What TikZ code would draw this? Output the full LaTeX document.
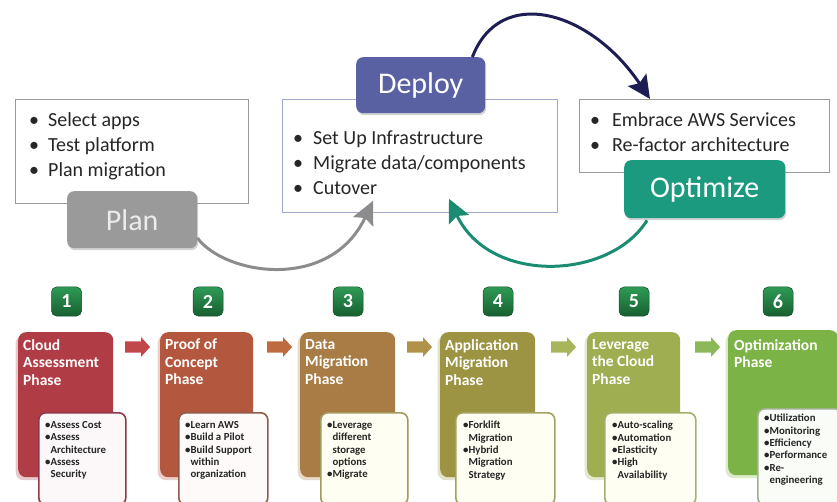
\documentclass[tikz,border=0pt]{standalone}
\usepackage{fontspec}
\setmainfont{Carlito}
\usetikzlibrary{arrows.meta,shapes.arrows,shadows}
\definecolor{btngray}{HTML}{9A9A9A}
\definecolor{btnblue}{HTML}{5A61A3}
\definecolor{btnteal}{HTML}{1C9A80}
\definecolor{navy}{HTML}{1E1E55}
\definecolor{tealarr}{HTML}{1A8C72}
\definecolor{grayarr}{HTML}{8C8C8C}
\definecolor{cA}{HTML}{B03C45}
\definecolor{cB}{HTML}{B3583F}
\definecolor{cC}{HTML}{A97B45}
\definecolor{cD}{HTML}{9C9442}
\definecolor{cE}{HTML}{9EAE50}
\definecolor{cF}{HTML}{7CB346}
\definecolor{aA}{HTML}{C0474A}
\definecolor{aB}{HTML}{BF6B40}
\definecolor{aC}{HTML}{B0924A}
\definecolor{aD}{HTML}{A9B55A}
\definecolor{aE}{HTML}{8CB85A}
\definecolor{bA}{HTML}{8E3A4C}
\definecolor{bB}{HTML}{8E5A4C}
\definecolor{bC}{HTML}{A39A60}
\definecolor{bD}{HTML}{A2A260}
\definecolor{bE}{HTML}{A2B070}
\definecolor{bF}{HTML}{A0B090}
\definecolor{badgetop}{HTML}{2E9A55}
\definecolor{badgebot}{HTML}{176030}
\begin{document}
\begin{tikzpicture}[x=1pt,y=-1pt,
  txtbox/.style={draw=black!40, line width=0.8pt, fill=white, inner sep=0pt, anchor=north west},
  listtext/.style={anchor=north west, inner sep=0pt, align=left, font=\fontsize{20}{25}\selectfont, text=black!85},
  btn/.style={rounded corners=7pt, inner sep=0pt, anchor=north west, text=white, font=\fontsize{30}{32}\selectfont, drop shadow={opacity=0.35, shadow xshift=1pt, shadow yshift=-2pt}},
  phase/.style={rounded corners=8pt, inner sep=0pt, anchor=north west, minimum height=145pt},
  pshadow/.style={drop shadow={fill=#1!28, opacity=1, shadow xshift=-2.5pt, shadow yshift=-3pt}},
  inner/.style={rounded corners=7pt, line width=1.6pt, inner sep=0pt, anchor=north west},
  ptitle/.style={anchor=north west, inner sep=0pt, align=left, text=white, font=\bfseries\fontsize{15.5}{17.5}\selectfont},
  itext/.style={anchor=north west, inner sep=0pt, align=left, text=black!85, font=\bfseries\fontsize{10.8}{12.4}\selectfont},
  badge/.style={rounded corners=5pt, minimum width=30pt, minimum height=29pt, inner sep=0pt, top color=badgetop, bottom color=badgebot, draw=badgebot!80!black, line width=0.5pt, text=white, font=\bfseries\fontsize{20}{20}\selectfont},
  blk/.style={single arrow, minimum height=25pt, minimum width=19pt, single arrow head extend=4pt, single arrow tip angle=95, inner xsep=0pt, inner ysep=5.5pt, text height=0pt, text depth=0pt},
  curve/.style={line width=3pt, -{Stealth[length=23pt,width=22pt,inset=4pt]}}
]
\useasboundingbox (0,0) rectangle (837,502);

% ---------------- upper part ----------------
\node[txtbox, minimum width=233pt, minimum height=104pt] (planbox) at (15,99) {};
\node[listtext] (plantext) at (29,112) {\makebox[19pt][l]{•}Select apps\\\makebox[19pt][l]{•}Test platform\\\makebox[19pt][l]{•}Plan migration};
\node[btn, fill=btngray, minimum width=130pt, minimum height=57pt, text=white!92!black] (plan) at (67,191) {Plan};

\node[txtbox, draw=btnblue!55, minimum width=275pt, minimum height=113pt] (deploybox) at (282,99) {};
\node[listtext] (deploytext) at (293,131) {\makebox[20pt][l]{•}Set Up Infrastructure\\\makebox[20pt][l]{•}Migrate data/components\\\makebox[20pt][l]{•}Cutover};
\node[btn, fill=btnblue, minimum width=129pt, minimum height=56pt] (deploy) at (356,57) {Deploy};

\node[txtbox, minimum width=250pt, minimum height=73pt] (optbox) at (579,99) {};
\node[listtext] (opttext) at (590,112) {\makebox[22pt][l]{•}Embrace AWS Services\\\makebox[22pt][l]{•}Re-factor architecture};
\node[btn, fill=btnteal, minimum width=161pt, minimum height=58pt] (optimize) at (624,160) {Optimize};

% curved connectors
\coordinate (dStart) at ([xshift=-13pt]deploy.north east);
\coordinate (oTip) at ([xshift=71pt]optbox.north west);
\draw[curve, draw=navy, color=navy] (dStart) .. controls (500,-15) and (590,10) .. (oTip);

\coordinate (oStart) at ([xshift=23pt,yshift=-2pt]optimize.south west);
\coordinate (dTip) at ([xshift=167pt,yshift=14pt]deploybox.south west);
\draw[curve, draw=tealarr, color=tealarr] (oStart) .. controls (610,280) and (490,285) .. (dTip);

\coordinate (pStart) at (plan.east |- 0,238);
\coordinate (pTip) at ([xshift=91pt,yshift=12pt]deploybox.south west);
\draw[curve, draw=grayarr, color=grayarr] (pStart) .. controls (225,275) and (330,292) .. (pTip);

% ---------------- lower part ----------------
\node[badge] (n1) at (66.5,301.5) {1};
\node[badge] (n2) at (208,301.5) {2};
\node[badge] (n3) at (348,301.5) {3};
\node[badge] (n4) at (498,301.5) {4};
\node[badge] (n5) at (634,301.5) {5};
\node[badge] (n6) at (778,301.5) {6};

\node[phase, pshadow=cA, fill=cA, minimum width=95pt] (p1) at (18,332) {};
\node[phase, pshadow=cB, fill=cB, minimum width=93pt] (p2) at (160,332) {};
\node[phase, pshadow=cC, fill=cC, minimum width=95pt] (p3) at (300,332) {};
\node[phase, pshadow=cD, fill=cD, minimum width=95pt] (p4) at (440,332) {};
\node[phase, pshadow=cE, fill=cE, minimum width=93pt] (p5) at (587,332) {};
\node[phase, pshadow=cF, fill=cF, minimum width=110pt] (p6) at (728,330) {};

\node[ptitle] (t1) at (23,339) {Cloud\\Assessment\\Phase};
\node[ptitle] (t2) at (165,339) {Proof of\\Concept\\Phase};
\node[ptitle] (t3) at (305,339) {Data\\Migration\\Phase};
\node[ptitle] (t4) at (445,339) {Application\\Migration\\Phase};
\node[ptitle] (t5) at (592,339) {Leverage\\the Cloud\\Phase};
\node[ptitle] (t6) at (734,339) {Optimization\\Phase};

\node[blk, fill=aA] (a1) at (135,347) {};
\node[blk, fill=aB] (a2) at (277,347) {};
\node[blk, fill=aC] (a3) at (417,347) {};
\node[blk, fill=aD] (a4) at (561,347) {};
\node[blk, fill=aE] (a5) at (705,347) {};

\node[inner, draw=bA, fill=white!96!cA, minimum width=87pt, minimum height=92pt] (i1) at (38,412) {};
\node[inner, draw=bB, fill=white!97!cB, minimum width=89pt, minimum height=92pt] (i2) at (178,412) {};
\node[inner, draw=bC, fill=white!95!yellow, minimum width=87pt, minimum height=92pt] (i3) at (320,412) {};
\node[inner, draw=bD, fill=white!95!yellow, minimum width=99pt, minimum height=92pt] (i4) at (455,412) {};
\node[inner, draw=bE, fill=white!95!yellow, minimum width=91pt, minimum height=92pt] (i5) at (604,412) {};
\node[inner, draw=bF, fill=white!96!cF, minimum width=84pt, minimum height=96pt] (i6) at (757,408) {};

\node[itext] (x1) at (45,421) {•Assess Cost\\•Assess\\\hspace*{0.5em}Architecture\\•Assess\\\hspace*{0.5em}Security};
\node[itext] (x2) at (185,421) {•Learn AWS\\•Build a Pilot\\•Build Support\\\hspace*{0.5em}within\\\hspace*{0.5em}organization};
\node[itext] (x3) at (327,421) {•Leverage\\\hspace*{0.5em}different\\\hspace*{0.5em}storage\\\hspace*{0.5em}options\\•Migrate};
\node[itext] (x4) at (463,421) {•Forklift\\\hspace*{0.5em}Migration\\•Hybrid\\\hspace*{0.5em}Migration\\\hspace*{0.5em}Strategy};
\node[itext] (x5) at (612,421) {•Auto-scaling\\•Automation\\•Elasticity\\•High\\\hspace*{0.5em}Availability};
\node[itext] (x6) at (764,414) {•Utilization\\•Monitoring\\•Efficiency\\•Performance\\•Re-\\\hspace*{0.5em}engineering};
\end{tikzpicture}
\end{document}
